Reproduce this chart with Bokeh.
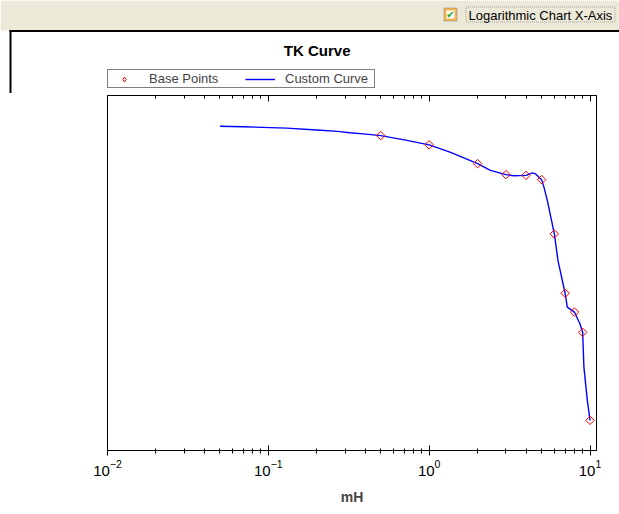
import numpy as np
from bokeh.plotting import figure
from bokeh.models import (Range1d, LogAxis, FixedTicker, LogTickFormatter,
                          Legend, LegendItem, Label, BoxAnnotation)
from bokeh.embed import file_html
from bokeh.resources import INLINE

# ---- data ----
base_x = [0.5, 1, 2, 3, 4, 5, 6, 7, 8, 9, 10]
base_y = [88.7, 86.1, 80.8, 77.7, 77.5, 76.3, 61.0, 44.3, 39.0, 33.3, 8.5]

curve_x = [0.05, 0.07, 0.13, 0.2, 0.27, 0.32, 0.39, 0.5, 0.7, 1, 1.36, 2, 2.4, 3,
           3.35, 4, 4.38, 4.59, 5, 5.17, 5.43, 6, 6.32, 7, 7.22, 8, 8.65, 9,
           9.16, 9.62, 10]
curve_y = [91.35, 91.2, 90.8, 90.3, 89.9, 89.5, 89.2, 88.7, 87.5, 86.1, 84.0, 80.8,
           78.9, 77.7, 77.4, 77.5, 78.2, 77.9, 76.3, 74.2, 70.4, 61.0, 53.5, 44.3,
           40.4, 39.0, 35.7, 33.3, 23.5, 14.1, 8.5]

major_ticks = [0.01, 0.1, 1, 10]
minor_ticks = [m * d for d in major_ticks[:-1] for m in range(2, 10)]

FONT = "Liberation Sans"
W = 619
HEAD_H = 93

# ---------------- header figure: window strip, title, legend ----------------
h = figure(width=W, height=HEAD_H, x_range=Range1d(0, W), y_range=Range1d(HEAD_H, 0),
           x_axis_location=None, y_axis_location=None, output_backend="svg",
           toolbar_location=None, min_border=0, min_border_left=0, min_border_right=0,
           min_border_top=0, min_border_bottom=0)
h.grid.visible = False
h.outline_line_color = None
h.background_fill_color = "white"
h.border_fill_color = "white"


def box(left, right, top, bottom, **kw):
    h.add_layout(BoxAnnotation(left=left, right=right, top=top, bottom=bottom, **kw))


box(0, W, 0, 30, fill_color="#ECE9D8", fill_alpha=1, line_color=None)
box(9, W, 29.5, 31.5, fill_color="black", fill_alpha=1, line_color=None)
box(9, 11, 29.5, HEAD_H, fill_color="black", fill_alpha=1, line_color=None)
box(443.5, 456.5, 7.5, 20.5, fill_color="#F6B54F", fill_alpha=1,
    line_color="#1C5180", line_width=1)
box(446, 454, 10, 18, fill_color="white", fill_alpha=1, line_color=None)
h.add_layout(Label(x=450, y=14, text="\u2714", text_align="center",
                   text_baseline="middle", text_color="#21A121",
                   text_font="DejaVu Sans", text_font_size="10px"))
h.add_layout(Label(x=468, y=14.5, text="Logarithmic Chart X-Axis",
                   text_baseline="middle", text_font=FONT, text_font_size="13px",
                   text_color="black"))
box(465.5, 614.5, 6.5, 21.5, fill_alpha=0, line_color="black", line_width=1,
    line_dash="1 1")
h.add_layout(Label(x=316.7, y=49.5, text="TK Curve", text_align="center",
                   text_baseline="middle", text_font=FONT, text_font_size="15px",
                   text_font_style="bold", text_color="black"))

# legend glyph proxies (same styles as the plotted series, hidden in this panel)
lg_pts = h.scatter(base_x[:1], base_y[:1], marker="diamond", size=12,
                   fill_color=None, line_color="#FF0000", line_width=1, visible=False)
lg_line = h.line(curve_x[:2], curve_y[:2], line_color="#0000FF", line_width=1.4,
                 visible=False)
legend = Legend(items=[LegendItem(label="Base Points", renderers=[lg_pts]),
                       LegendItem(label="Custom Curve", renderers=[lg_line])],
                orientation="horizontal", location=(107, HEAD_H - 88),
                border_line_color="black", border_line_width=1,
                background_fill_color="white", background_fill_alpha=1,
                inactive_fill_alpha=0,
                label_text_font=FONT, label_text_font_size="13px",
                glyph_width=30, glyph_height=12, label_height=12,
                label_standoff=10, spacing=8, label_width=88, padding=1, margin=0)
h.add_layout(legend)

# ---------------- main chart ----------------
MAIN_H = 514 - HEAD_H
FRAME_TOP = 95 - HEAD_H
p = figure(width=W, height=MAIN_H, x_axis_type="log",
           x_range=Range1d(0.01, 10.97), y_range=Range1d(0, 100),
           y_axis_location=None, output_backend="svg", toolbar_location=None,
           min_border_left=107, min_border_right=23, min_border_top=FRAME_TOP,
           min_border_bottom=MAIN_H - (450 - HEAD_H))
p.grid.visible = False
p.outline_line_color = "black"
p.outline_line_width = 1
p.background_fill_color = "white"
p.border_fill_color = "white"

ax = p.xaxis[0]
ax.ticker = FixedTicker(ticks=major_ticks, minor_ticks=minor_ticks)
ax.formatter = LogTickFormatter()
ax.major_label_text_font = FONT
ax.major_label_text_font_size = "15px"
ax.major_label_text_color = "black"
ax.major_label_standoff = 4
ax.axis_label = "mH"
ax.axis_label_text_font = FONT
ax.axis_label_text_font_size = "14px"
ax.axis_label_text_font_style = "bold"
ax.axis_label_standoff = 10
ax.major_tick_in = 5
ax.major_tick_out = 5
ax.minor_tick_in = 2
ax.minor_tick_out = 3
ax.axis_line_color = "black"
ax.major_tick_line_color = "black"
ax.minor_tick_line_color = "black"

top = LogAxis(ticker=FixedTicker(ticks=major_ticks, minor_ticks=minor_ticks),
              formatter=LogTickFormatter(),
              major_label_text_alpha=0, major_label_text_font_size="1px",
              major_label_standoff=0,
              major_tick_in=6, major_tick_out=0,
              minor_tick_in=3, minor_tick_out=0, axis_line_color="black",
              major_tick_line_color="black", minor_tick_line_color="black")
p.add_layout(top, "above")

p.line(curve_x, curve_y, line_color="#0000FF", line_width=1.4)
p.scatter(base_x, base_y, marker="square", angle=np.pi / 4, size=6,
          fill_color=None, line_color="#FF0000", line_width=1)

open("out.html", "w").write(file_html([h, p], INLINE))
